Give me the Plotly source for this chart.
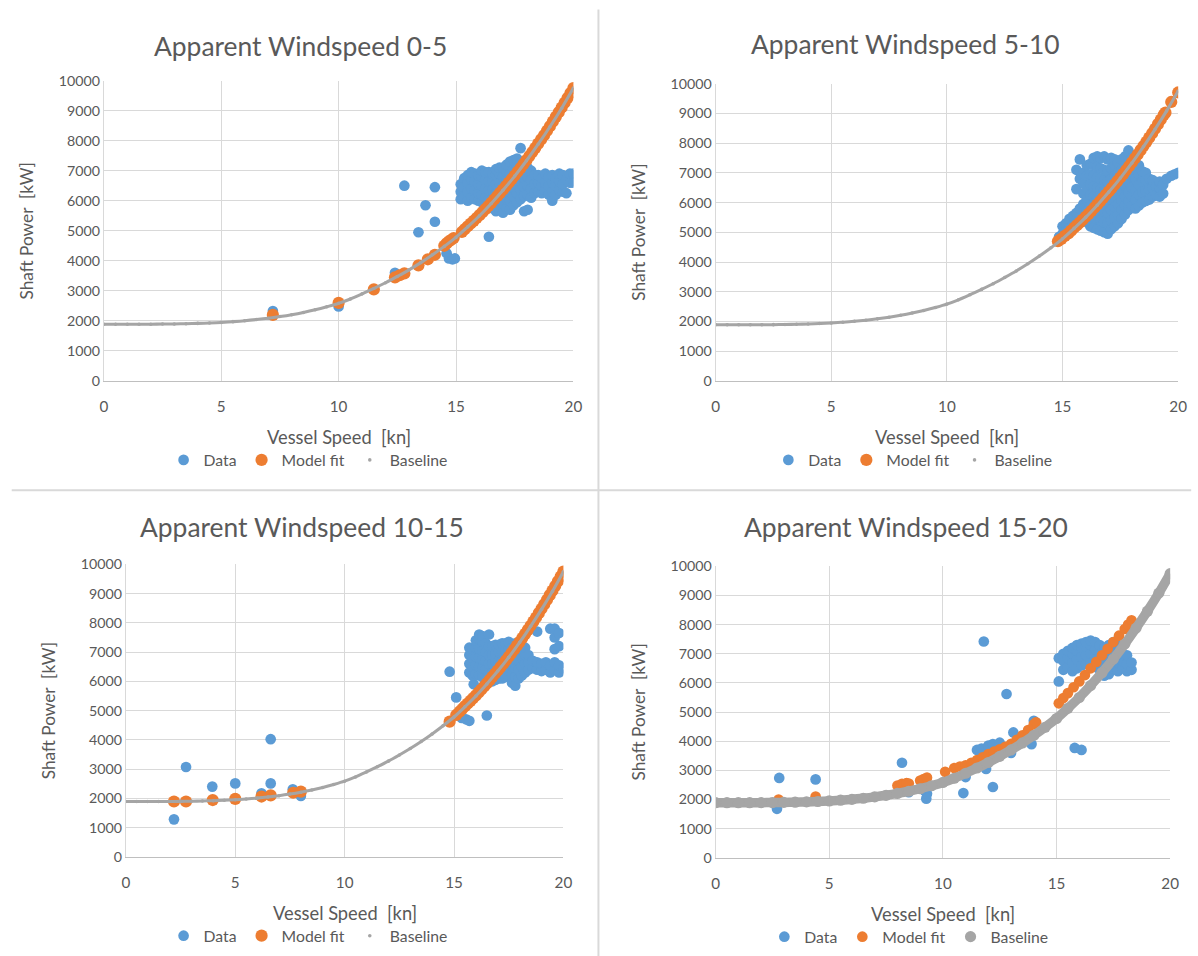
import plotly.graph_objects as go

W, H = 1198, 956

# baseline curve (shared by all four panels)
base_x = [0, 0.5, 1, 1.5, 2, 2.5, 3, 3.5, 4, 4.5, 5, 5.5, 6, 6.5, 7, 7.5, 8, 8.5, 9, 9.5,
          10, 10.5, 11, 11.5, 12, 12.5, 13, 13.5, 14, 14.5, 15, 15.5, 16, 16.5, 17, 17.5,
          18, 18.5, 19, 19.5, 20]
base_y = [1890, 1890, 1890, 1891, 1892, 1895, 1900, 1908, 1918, 1932, 1951, 1976, 2006, 2044,
          2089, 2144, 2208, 2283, 2370, 2471, 2585, 2730, 2900, 3080, 3270, 3480, 3700, 3940,
          4200, 4480, 4780, 5130, 5500, 5910, 6350, 6820, 7330, 7880, 8460, 9080, 9750]

# upper model-fit branch, common to the 0-5, 5-10 and 10-15 panels
fit_hi_x = [15.25, 15.375, 15.5, 15.625, 15.75, 15.875, 16, 16.125, 16.25, 16.375, 16.5, 16.625,
            16.75, 16.875, 17, 17.125, 17.25, 17.375, 17.5, 17.625, 17.75, 17.875, 18, 18.125,
            18.25, 18.375, 18.5, 18.625, 18.75, 18.875, 19, 19.125, 19.25, 19.375, 19.5, 19.625,
            19.75, 19.875, 20]
fit_hi_y = [4960, 5055, 5150, 5240, 5330, 5425, 5520, 5620, 5720, 5825, 5930, 6040, 6150, 6260,
            6370, 6485, 6600, 6720, 6840, 6965, 7090, 7220, 7350, 7485, 7620, 7760, 7900, 8040,
            8180, 8330, 8480, 8635, 8790, 8945, 9100, 9260, 9420, 9585, 9750]

# ---- Apparent windspeed 0-5
data1_pts = [(7.2, 2330), (10.0, 2480), (12.4, 3600), (12.8, 6500), (13.4, 4950), (13.7, 5850),
             (14.1, 6450), (14.1, 5300), (14.6, 4250), (14.7, 4080), (14.85, 4050), (14.95, 4080),
             (16.4, 4800)]
data1_cols = [
    (15.2, [6050, 6300, 6550]), (15.35, [6150, 6450, 6750]), (15.5, [6000, 6300, 6600, 6850]),
    (15.65, [6100, 6400, 6700, 6950]), (15.8, [6050, 6350, 6650, 6900]),
    (15.95, [6000, 6250, 6550, 6850]), (16.1, [5950, 6200, 6500, 6800, 7000]),
    (16.25, [6100, 6400, 6700, 6950]), (16.4, [6050, 6350, 6650, 6950]),
    (16.55, [5750, 6050, 6350, 6650, 6900]), (16.7, [5650, 5950, 6250, 6550, 6850, 7050]),
    (16.85, [5700, 6000, 6300, 6600, 6900, 7100]), (17.0, [5600, 5900, 6200, 6500, 6800, 7100]),
    (17.15, [5750, 6050, 6350, 6650, 6950, 7200]), (17.3, [5700, 6000, 6300, 6600, 6900, 7300]),
    (17.45, [5850, 6150, 6450, 6750, 7050, 7350]), (17.6, [5950, 6250, 6550, 6850, 7150, 7400]),
    (17.75, [6050, 6350, 6650, 6950, 7250, 7750]), (17.9, [5650, 6150, 6450, 6750, 7050, 7300]),
    (18.05, [5700, 6200, 6500, 6800, 7100]), (18.2, [6100, 6400, 6700, 7000]),
    (18.35, [6250, 6550, 6850]), (18.5, [6300, 6600, 6850]), (18.65, [6250, 6500, 6750]),
    (18.8, [6350, 6600, 6900]), (18.95, [6200, 6500, 6800]), (19.1, [6000, 6300, 6600, 6850]),
    (19.25, [6200, 6500, 6750]), (19.4, [6350, 6650, 6900]), (19.55, [6300, 6550, 6850]),
    (19.7, [6250, 6700]), (19.85, [6600, 6900]), (20.0, [6600, 6900]),
]
model1_x = [7.2, 10.0, 11.5, 12.4, 12.6, 12.8, 13.4, 13.8, 14.1, 14.5, 14.6, 14.7, 14.8, 14.9]
model1_y = [2200, 2600, 3050, 3450, 3520, 3580, 3850, 4050, 4200, 4500, 4580, 4650, 4700, 4760]

# ---- Apparent windspeed 5-10
data2_pts = []
data2_cols = [
    (14.85, [4850]), (15.0, [4950, 5200]), (15.15, [5050, 5300]), (15.3, [5150, 5450]),
    (15.45, [5250, 5550]), (15.6, [5300, 5650, 6450, 7100]), (15.75, [5400, 5800, 6800, 7450]),
    (15.9, [5450, 5950, 6300, 6650, 7000]), (16.05, [5350, 5700, 6100, 6500, 6900, 7250]),
    (16.2, [5200, 5550, 5900, 6250, 6600, 6950, 7300]),
    (16.35, [5150, 5500, 5850, 6200, 6550, 6900, 7250, 7500]),
    (16.5, [5100, 5450, 5800, 6150, 6500, 6850, 7200, 7550]),
    (16.65, [5050, 5400, 5750, 6100, 6450, 6800, 7150, 7500]),
    (16.8, [5000, 5350, 5700, 6050, 6400, 6750, 7100, 7550]),
    (16.95, [4950, 5300, 5650, 6000, 6350, 6700, 7050, 7450]),
    (17.1, [5100, 5400, 5750, 6100, 6450, 6800, 7150, 7500]),
    (17.25, [5200, 5500, 5850, 6200, 6550, 6900, 7250, 7450]),
    (17.4, [5300, 5600, 5950, 6300, 6650, 7000, 7350]),
    (17.55, [5450, 5750, 6050, 6400, 6750, 7100, 7450]),
    (17.7, [5600, 5900, 6200, 6550, 6900, 7250, 7550]),
    (17.85, [5750, 6050, 6350, 6700, 7050, 7400, 7750]),
    (18.0, [5900, 6200, 6500, 6850, 7200, 7500]), (18.15, [5800, 6100, 6450, 6800, 7150, 7350]),
    (18.3, [5900, 6250, 6600, 6950, 7250]), (18.45, [6000, 6350, 6700, 7050]),
    (18.6, [6050, 6400, 6750, 7000]), (18.75, [6100, 6450, 6800]), (18.9, [6200, 6500, 6750]),
    (19.05, [6250, 6550]), (19.2, [6200, 6500, 6700]), (19.35, [6300, 6600]), (19.5, [6800]),
    (19.7, [6900]), (19.85, [6950]), (20.0, [7000]),
]
model2_x = [14.8, 14.95, 15.1, 19.45, 19.7, 20.0]
model2_y = [4700, 4780, 4880, 9020, 9380, 9700]
model2_upto = 19.4   # upper branch is continuous only up to here

# ---- Apparent windspeed 10-15
data3_pts = [(2.2, 1280), (2.75, 3070), (3.95, 2400), (5.0, 2510), (6.2, 2170), (6.62, 2510),
             (6.62, 4020), (7.63, 2310), (8.0, 2080), (14.8, 6330), (15.1, 5450), (15.35, 4750),
             (15.55, 4700), (15.7, 4650), (15.9, 5900), (16.5, 4830)]
data3_cols = [
    (15.7, [6300, 6600, 6900, 7150]), (15.85, [6200, 6500, 6800, 7100]),
    (16.0, [6250, 6550, 6850, 7150, 7400]), (16.15, [6200, 6500, 6800, 7100, 7450, 7600]),
    (16.3, [6150, 6450, 6750, 7050, 7350, 7550]), (16.45, [6100, 6400, 6700, 7000, 7300]),
    (16.6, [6000, 6300, 6600, 6900, 7200, 7600]), (16.75, [6000, 6300, 6600, 6900, 7200]),
    (16.9, [6050, 6350, 6650, 6950, 7250]), (17.05, [6100, 6400, 6700, 7000, 7250]),
    (17.2, [6100, 6400, 6700, 7000, 7300]), (17.35, [6150, 6450, 6750, 7050, 7300]),
    (17.5, [6200, 6500, 6800, 7100, 7350]), (17.65, [5950, 6250, 6550, 6850, 7150]),
    (17.8, [5850, 6150, 6450, 6750, 7050, 7300]), (17.95, [6100, 6400, 6700, 7000, 7250]),
    (18.1, [6200, 6500, 6800, 7100]), (18.25, [6300, 6600, 6900, 7150]),
    (18.4, [6400, 6650, 6900]), (18.6, [6450, 6700]), (18.8, [6400, 6650, 7700]),
    (19.0, [6350, 6600]), (19.2, [6400, 6650]), (19.4, [6300, 6550, 7800]),
    (19.6, [6400, 6650, 7100, 7500, 7800]), (19.8, [6300, 6550, 7200, 7650]), (20.0, [6450]),
]
model3_x = [2.2, 2.75, 3.97, 5.0, 6.2, 6.62, 7.65, 8.0, 14.8, 15.1]
model3_y = [1890, 1890, 1940, 1980, 2060, 2100, 2190, 2230, 4620, 4850]

# ---- Apparent windspeed 15-20
data4_pts = [(2.8, 2740), (2.7, 1680), (4.4, 2690), (8.2, 3260), (8.5, 2250), (9.2, 2300),
             (9.27, 2030), (9.3, 2200), (10.9, 2220), (11.0, 2770), (11.9, 3050), (12.2, 2430),
             (11.5, 3700), (11.7, 3750), (12.0, 3850), (12.2, 3900), (12.5, 3950), (12.8, 3700),
             (13.0, 3600), (13.1, 4300), (13.9, 3900), (14.0, 4700), (11.8, 7420), (12.8, 5620),
             (15.1, 6050), (15.8, 3770), (16.1, 3700)]
data4_cols = [
    (15.1, [6850]), (15.3, [6450, 6750, 7000]), (15.5, [6550, 6850, 7100]),
    (15.7, [6400, 6700, 7000, 7200]), (15.9, [6500, 6800, 7100, 7300]),
    (16.1, [6600, 6900, 7200, 7350]), (16.3, [6650, 6950, 7250, 7400]),
    (16.5, [6700, 7000, 7300, 7450]), (16.7, [6550, 6850, 7150, 7400]),
    (16.9, [6450, 6750, 7050, 7300]), (17.1, [6250, 6550, 6850, 7200]),
    (17.3, [6300, 6600, 6900, 7300]), (17.5, [6500, 6800, 7100, 7400]),
    (17.7, [6400, 6700, 7000, 7300]), (17.9, [6500, 6750, 7000]), (18.1, [6400, 6650, 6950]),
    (18.3, [6450, 6700]),
]
model4_x = [2.77, 4.4, 8.0, 8.2, 8.4, 8.5, 9.0, 9.15, 9.3, 10.1, 10.5, 10.75, 11.0, 11.25, 11.5,
            11.75, 12.0, 12.25, 12.5, 12.75, 13.0, 13.25, 13.5, 13.75, 14.0, 14.1, 15.1, 15.3,
            15.5, 15.75, 16.0, 16.25, 16.5, 16.75, 17.0, 17.25, 17.5, 17.75, 18.0, 18.15, 18.3]
model4_y = [2000, 2100, 2480, 2540, 2560, 2550, 2650, 2700, 2750, 2950, 3080, 3130, 3170, 3260,
            3350, 3450, 3560, 3640, 3720, 3810, 3910, 4050, 4200, 4380, 4580, 4650, 5300, 5480,
            5650, 5850, 6050, 6270, 6500, 6720, 6950, 7170, 7400, 7620, 7850, 8000, 8150]

BLUE, ORANGE, GREY = "#5B9BD5", "#ED7D31", "#A5A5A5"
TXT = "#595959"
FONT = "Lato"

# the page photo comes out slightly shrunk; these undo it so that pixel targets land right
SX, OX = 0.9879, 4.3
SY, OY = 0.9806, 9.6
K = 1 / 0.984


def fx(p):
    return (p - OX) / (SX * W)


def fy(p):
    return 1 - (p - OY) / (SY * H)


def hi_branch(upto=20):
    xs = [x for x in fit_hi_x if x <= upto]
    return xs, fit_hi_y[:len(xs)]


h1x, h1y = hi_branch()
h2x, h2y = hi_branch(model2_upto)
h3x, h3y = hi_branch()

# per panel: title, data, plot box in pixels (left, right, top, bottom), marker sizes
panels = [
    dict(title="Apparent Windspeed 0-5", pts=data1_pts, cols=data1_cols,
         mx=model1_x + h1x, my=model1_y + h1y, box=(104, 573, 81, 381), msize=12, bsize=3.5,
         title_xy=(300, 47), leg_cx=308),
    dict(title="Apparent Windspeed 5-10", pts=data2_pts, cols=data2_cols,
         mx=model2_x + h2x, my=model2_y + h2y, box=(715, 1177, 84, 381), msize=12, bsize=3.5,
         title_xy=(905, 45), leg_cx=912),
    dict(title="Apparent Windspeed 10-15", pts=data3_pts, cols=data3_cols,
         mx=model3_x + h3x, my=model3_y + h3y, box=(126, 563, 564, 856), msize=12, bsize=3.5,
         title_xy=(302, 527), leg_cx=308),
    dict(title="Apparent Windspeed 15-20", pts=data4_pts, cols=data4_cols,
         mx=model4_x, my=model4_y, box=(715, 1169, 566, 857), msize=10.5, bsize=11,
         title_xy=(905, 527), leg_cx=908),
]

fig = go.Figure()
annotations = []
layout = {}

for i, p in enumerate(panels, start=1):
    sfx = "" if i == 1 else str(i)
    xa, ya = "x" + sfx, "y" + sfx
    leg = "legend" + sfx

    dx = [x for x, _ in p["pts"]]
    dy = [y for _, y in p["pts"]]
    for x, ys in p["cols"]:
        dx += [x] * len(ys)
        dy += ys

    fig.add_trace(go.Scatter(x=dx, y=dy, mode="markers", name="Data", xaxis=xa, yaxis=ya,
                             legend=leg, marker=dict(color=BLUE, size=10.5 * K)))
    fig.add_trace(go.Scatter(x=p["mx"], y=p["my"], mode="markers", name="Model fit", xaxis=xa,
                             yaxis=ya, legend=leg, marker=dict(color=ORANGE, size=p["msize"] * K)))
    fig.add_trace(go.Scatter(x=base_x, y=base_y, mode="lines", xaxis=xa, yaxis=ya,
                             line=dict(color=GREY, width=p["bsize"] * 0.85 * K, shape="spline"),
                             showlegend=False, hoverinfo="skip"))
    fig.add_trace(go.Scatter(x=base_x, y=base_y, mode="markers", name="Baseline", xaxis=xa,
                             yaxis=ya, legend=leg, marker=dict(color=GREY, size=p["bsize"] * K)))

    l, r, t, b = p["box"]
    layout["xaxis" + sfx] = dict(
        domain=[fx(l), fx(r)], anchor=ya, range=[0, 20], dtick=5, showgrid=True,
        gridcolor="#D9D9D9", zeroline=False, showline=True, linecolor="#BFBFBF", ticks="",
        ticklabelstandoff=12, tickfont=dict(size=15 * K, color=TXT, family=FONT),
        fixedrange=True)
    layout["yaxis" + sfx] = dict(
        domain=[fy(b), fy(t)], anchor=xa, range=[0, 10000], dtick=1000, showgrid=True,
        gridcolor="#D9D9D9", zeroline=False, showline=True, linecolor="#D9D9D9",
        tickformat="d", ticks="", ticklabelstandoff=0,
        tickfont=dict(size=14 * K, color=TXT, family=FONT), fixedrange=True)

    cx = (l + r) / 2
    tx, ty = p["title_xy"]
    annotations.append(dict(text=p["title"], x=fx(tx), y=fy(ty), xref="paper", yref="paper",
                            xanchor="center", yanchor="middle", showarrow=False,
                            font=dict(size=26 * K, color=TXT, family=FONT)))
    annotations.append(dict(text="Vessel Speed  [kn]", x=fx(cx), y=fy(b + 56), xref="paper",
                            yref="paper", xanchor="center", yanchor="middle", showarrow=False,
                            font=dict(size=18 * K, color=TXT, family=FONT)))
    annotations.append(dict(text="Shaft Power  [kW]", x=fx(l - 77), y=fy((t + b) / 2),
                            xref="paper", yref="paper", xanchor="center", yanchor="middle",
                            showarrow=False, textangle=-90,
                            font=dict(size=17 * K, color=TXT, family=FONT)))

    layout[leg] = dict(orientation="h", x=fx(p["leg_cx"]), y=fy(b + 79), xanchor="center",
                       yanchor="middle", font=dict(size=15.5 * K, color=TXT, family=FONT),
                       bgcolor="rgba(0,0,0,0)", itemwidth=30, tracegroupgap=0)

shapes = [
    dict(type="line", xref="paper", yref="paper", x0=fx(598), x1=fx(598), y0=fy(956), y1=fy(10),
         line=dict(color="#D9D9D9", width=2)),
    dict(type="line", xref="paper", yref="paper", x0=fx(12), x1=fx(1190), y0=fy(490), y1=fy(490),
         line=dict(color="#D9D9D9", width=2)),
]

fig.update_layout(
    width=W, height=H, margin=dict(l=0, r=0, t=0, b=0),
    paper_bgcolor="white", plot_bgcolor="white",
    font=dict(family=FONT, color=TXT),
    annotations=annotations, shapes=shapes, hovermode="closest",
    **layout,
)

# drop the default page margin / scrollbars so the figure fills the window exactly
fig.write_html(
    "out.html",
    config={"displayModeBar": False},
    post_script="document.body.style.margin = '0'; document.body.style.overflow = 'hidden';",
)
